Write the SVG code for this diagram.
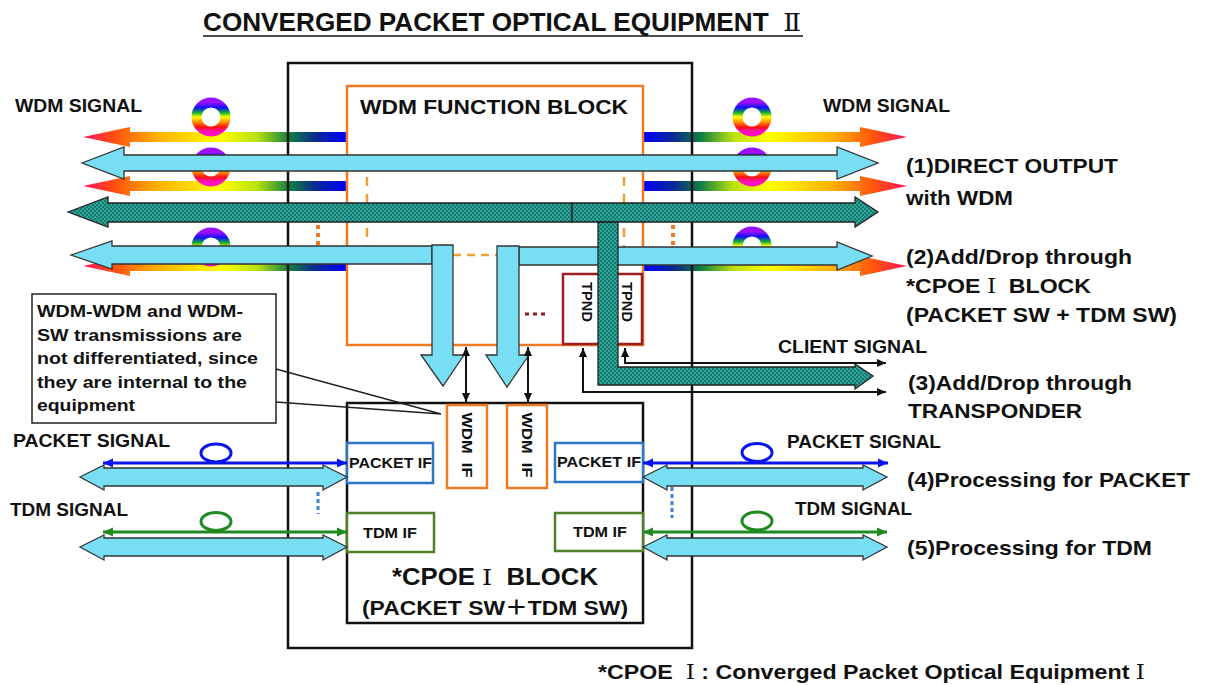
<svg xmlns="http://www.w3.org/2000/svg" width="1207" height="685" viewBox="0 0 1207 685">
<defs>
<style>
text{font-family:"Liberation Sans",Arial,"Noto Sans CJK JP",sans-serif;font-weight:bold;fill:#111}
.rn{font-family:"DejaVu Serif","Liberation Serif","Noto Sans CJK JP",serif;font-weight:normal}
.cy{fill:#78def4;stroke:#333;stroke-width:1.3}
.tl{fill:url(#chk);stroke:#222;stroke-width:1.3}
.ring{fill:none;stroke:url(#rg);stroke-width:10}
.blk{fill:none;stroke:#111;stroke-width:2.5}
.or{fill:none;stroke:#ee7a24;stroke-width:2.5}
.dash{fill:none;stroke:#f0a030;stroke-width:2.5;stroke-dasharray:9 8}
.bl{stroke:#0a14f0;stroke-width:3;fill:none}
.gr{stroke:#1f8a1f;stroke-width:3;fill:none}
.bk{stroke:#111;stroke-width:2;fill:none}
</style>
<linearGradient id="rl" gradientUnits="userSpaceOnUse" x1="347" y1="0" x2="83" y2="0">
<stop offset="0" stop-color="#0000ff"/><stop offset="0.12" stop-color="#0a2a90"/><stop offset="0.22" stop-color="#108040"/><stop offset="0.34" stop-color="#b8e010"/><stop offset="0.48" stop-color="#ffff00"/><stop offset="0.72" stop-color="#ffb000"/><stop offset="0.88" stop-color="#ff5010"/><stop offset="1" stop-color="#ff1060"/>
</linearGradient>
<linearGradient id="rr" gradientUnits="userSpaceOnUse" x1="643" y1="0" x2="907" y2="0">
<stop offset="0" stop-color="#0000ff"/><stop offset="0.12" stop-color="#0a2a90"/><stop offset="0.22" stop-color="#108040"/><stop offset="0.34" stop-color="#b8e010"/><stop offset="0.48" stop-color="#ffff00"/><stop offset="0.72" stop-color="#ffb000"/><stop offset="0.88" stop-color="#ff5010"/><stop offset="1" stop-color="#ff1060"/>
</linearGradient>
<linearGradient id="rg" x1="0" y1="0" x2="0" y2="1">
<stop offset="0" stop-color="#9a10ff"/><stop offset="0.18" stop-color="#1010ff"/><stop offset="0.35" stop-color="#10b030"/><stop offset="0.5" stop-color="#ffff00"/><stop offset="0.68" stop-color="#ff8c00"/><stop offset="0.85" stop-color="#ff1010"/><stop offset="1" stop-color="#ff10c0"/>
</linearGradient>
<pattern id="chk" width="4" height="4" patternUnits="userSpaceOnUse">
<rect width="4" height="4" fill="#33a598"/><rect width="2" height="2" fill="#137a70"/><rect x="2" y="2" width="2" height="2" fill="#137a70"/>
</pattern>
<marker id="mb" viewBox="0 0 10 10" refX="10" refY="5" markerWidth="11" markerHeight="10" markerUnits="userSpaceOnUse" orient="auto-start-reverse"><path d="M0,0.5 L10,5 L0,9.5 Z" fill="#0a14f0"/></marker>
<marker id="mg" viewBox="0 0 10 10" refX="10" refY="5" markerWidth="11" markerHeight="10" markerUnits="userSpaceOnUse" orient="auto-start-reverse"><path d="M0,0.5 L10,5 L0,9.5 Z" fill="#1f8a1f"/></marker>
<marker id="mk" viewBox="0 0 10 10" refX="10" refY="5" markerWidth="10" markerHeight="9" markerUnits="userSpaceOnUse" orient="auto-start-reverse"><path d="M0,0.5 L10,5 L0,9.5 Z" fill="#111"/></marker>
</defs>
<rect width="1207" height="685" fill="#fff"/>

<g id="title">
<text x="203" y="31" font-size="25" xml:space="preserve" textLength="598" lengthAdjust="spacingAndGlyphs">CONVERGED PACKET OPTICAL EQUIPMENT  <tspan class="rn">Ⅱ</tspan></text>
<line x1="203" y1="36" x2="803" y2="36" stroke="#111" stroke-width="1.5"/>
</g>

<g id="wdm-signals">
<polygon fill="url(#rl)" points="347,132 130,132 130,127 83,137 130,147 130,142 347,142"/>
<polygon fill="url(#rl)" points="347,181 130,181 130,176 83,186 130,196 130,191 347,191"/>
<polygon fill="url(#rl)" points="347,261 130,261 130,256 83,266 130,276 130,271 347,271"/>
<polygon fill="url(#rr)" points="643,132 860,132 860,127 907,137 860,147 860,142 643,142"/>
<polygon fill="url(#rr)" points="643,181 860,181 860,176 907,186 860,196 860,191 643,191"/>
<polygon fill="url(#rr)" points="643,261 860,261 860,256 907,266 860,276 860,271 643,271"/>
<circle class="ring" cx="211" cy="117" r="14.5"/>
<circle class="ring" cx="211" cy="167" r="14.5"/>
<circle class="ring" cx="211" cy="247" r="14.5"/>
<circle class="ring" cx="752" cy="117" r="14.5"/>
<circle class="ring" cx="752" cy="167" r="14.5"/>
<circle class="ring" cx="752" cy="246" r="14.5"/>
</g>

<g id="equipment">
<rect class="blk" x="288" y="63" width="404" height="585"/>
</g>

<g id="wdm-function-block">
<rect class="or" x="347" y="86" width="296" height="259" fill="#fff"/>
<text x="360" y="114" font-size="21" textLength="268" lengthAdjust="spacingAndGlyphs">WDM FUNCTION BLOCK</text>
<line class="dash" x1="367" y1="177" x2="367" y2="250"/>
<line class="dash" x1="624" y1="177" x2="624" y2="250"/>
<line x1="453" y1="255" x2="497" y2="255" stroke="#f0a030" stroke-width="2.5" stroke-dasharray="8 6"/>
<line x1="525" y1="314" x2="546" y2="314" stroke="#8b1c1c" stroke-width="3" stroke-dasharray="4 4"/>
</g>
<g id="outside-dots">
<line x1="318" y1="225" x2="318" y2="246" stroke="#ee7a24" stroke-width="4" stroke-dasharray="4 4"/>
<line x1="673" y1="225" x2="673" y2="246" stroke="#ee7a24" stroke-width="4" stroke-dasharray="4 4"/>
<line x1="318" y1="492" x2="318" y2="514" stroke="#3a7fd0" stroke-width="3" stroke-dasharray="4 3"/>
<line x1="672" y1="487" x2="672" y2="518" stroke="#3a7fd0" stroke-width="3" stroke-dasharray="4 3"/>
</g>

<g id="tpnd">
<rect x="563" y="274" width="79" height="70" fill="#fff" stroke="#9b1e22" stroke-width="2.5"/>
</g>

<g id="cpoe-block">
<rect class="blk" x="347" y="403" width="296" height="220" fill="#fff"/>
<text x="392" y="585" font-size="23" xml:space="preserve" textLength="206" lengthAdjust="spacingAndGlyphs">*CPOE <tspan class="rn">Ⅰ</tspan>  BLOCK</text>
<text x="362" y="615" font-size="20" textLength="266" lengthAdjust="spacingAndGlyphs">(PACKET SW＋TDM SW)</text>
</g>
<g id="wdm-if-1">
<rect x="447" y="405" width="40" height="83" fill="#fff" stroke="#ee7a24" stroke-width="2.5"/>
<text transform="translate(467,445) rotate(90)" x="0" y="5" font-size="14" text-anchor="middle" xml:space="preserve" textLength="65" lengthAdjust="spacingAndGlyphs">WDM  IF</text>
</g>
<g id="wdm-if-2">
<rect x="507" y="405" width="40" height="83" fill="#fff" stroke="#ee7a24" stroke-width="2.5"/>
<text transform="translate(527,445) rotate(90)" x="0" y="5" font-size="14" text-anchor="middle" xml:space="preserve" textLength="65" lengthAdjust="spacingAndGlyphs">WDM  IF</text>
</g>
<g id="packet-if-left">
<rect x="347" y="443" width="86" height="40" fill="#fff" stroke="#2e75c6" stroke-width="2.5"/>
<text x="349" y="468" font-size="15" textLength="83" lengthAdjust="spacingAndGlyphs">PACKET IF</text>
</g>
<g id="packet-if-right">
<rect x="555" y="443" width="88" height="39" fill="#fff" stroke="#2e75c6" stroke-width="2.5"/>
<text x="557" y="467" font-size="15" textLength="84" lengthAdjust="spacingAndGlyphs">PACKET IF</text>
</g>
<g id="tdm-if-left">
<rect x="347" y="513" width="87" height="39" fill="#fff" stroke="#4f7f28" stroke-width="2.5"/>
<text x="363" y="538" font-size="15" textLength="54" lengthAdjust="spacingAndGlyphs">TDM IF</text>
</g>
<g id="tdm-if-right">
<rect x="555" y="513" width="88" height="38" fill="#fff" stroke="#4f7f28" stroke-width="2.5"/>
<text x="573" y="537" font-size="15" textLength="54" lengthAdjust="spacingAndGlyphs">TDM IF</text>
</g>

<g id="connectors">
<path class="cy" d="M82,163 L124,147 L124,155 L837,155 L837,147 L878,163 L837,179 L837,171 L124,171 L124,179 Z"/>
<path class="tl" d="M68,212 L108,197 L108,203 L572,203 L572,222 L108,222 L108,227 Z"/>
<path class="tl" d="M572,203 L855,203 L855,197 L878,212 L855,227 L855,222 L572,222 Z"/>
<path class="cy" d="M71,255 L112,241 L112,246 L432,246 L432,264 L112,264 L112,269 Z"/>
<path class="cy" d="M519,247 L837,247 L837,242 L872,256 L837,270 L837,265 L519,265 Z"/>
<path class="cy" d="M432,245 L453,245 L453,355 L464,355 L443,386 L421,355 L432,355 Z"/>
<path class="cy" d="M497,246 L519,246 L519,355 L529,355 L507,387 L486,355 L497,355 Z"/>
<path class="tl" d="M598,222 L618,222 L618,367 L855,367 L855,364 L873,376 L855,389 L855,385 L598,385 Z"/>
<path class="bk" d="M625,348 L625,363 L886,363" marker-start="url(#mk)" marker-end="url(#mk)"/>
<path class="bk" d="M583,348 L583,392 L886,392" marker-start="url(#mk)" marker-end="url(#mk)"/>
<path class="bk" d="M466,347 L466,402" marker-start="url(#mk)" marker-end="url(#mk)"/>
<path class="bk" d="M528,347 L528,402" marker-start="url(#mk)" marker-end="url(#mk)"/>
<path class="cy" d="M80,477 L104,465 L104,468 L323,468 L323,465 L347,477 L323,490 L323,486 L104,486 L104,490 Z"/>
<path class="cy" d="M80,547 L104,535 L104,538 L323,538 L323,535 L347,547 L323,560 L323,556 L104,556 L104,560 Z"/>
<path class="cy" d="M643,477 L667,465 L667,468 L863,468 L863,465 L887,477 L863,490 L863,486 L667,486 L667,490 Z"/>
<path class="cy" d="M643,547 L667,535 L667,538 L863,538 L863,535 L887,547 L863,560 L863,556 L667,556 L667,560 Z"/>
<line class="bl" x1="103" y1="463" x2="347" y2="463" marker-start="url(#mb)" marker-end="url(#mb)"/>
<line class="bl" x1="643" y1="463" x2="888" y2="463" marker-start="url(#mb)" marker-end="url(#mb)"/>
<line class="gr" x1="103" y1="532" x2="347" y2="532" marker-start="url(#mg)" marker-end="url(#mg)"/>
<line class="gr" x1="643" y1="532" x2="887" y2="532" marker-start="url(#mg)" marker-end="url(#mg)"/>
<ellipse class="bl" cx="216" cy="453" rx="15" ry="9"/>
<ellipse class="bl" cx="757" cy="452.5" rx="15" ry="9"/>
<ellipse class="gr" cx="216" cy="521.5" rx="15" ry="9"/>
<ellipse class="gr" cx="757" cy="521" rx="15" ry="9"/>
</g>

<g id="tpnd-labels">
<text transform="translate(587,302) rotate(90)" x="0" y="5" font-size="14" text-anchor="middle" textLength="40" lengthAdjust="spacingAndGlyphs">TPND</text>
<text transform="translate(627,302) rotate(90)" x="0" y="5" font-size="14" text-anchor="middle" textLength="40" lengthAdjust="spacingAndGlyphs">TPND</text>
</g>

<g id="labels">
<text x="15" y="112" font-size="18" textLength="127" lengthAdjust="spacingAndGlyphs">WDM SIGNAL</text>
<text x="823" y="112" font-size="18" textLength="127" lengthAdjust="spacingAndGlyphs">WDM SIGNAL</text>
<text x="906" y="173" font-size="21" textLength="212" lengthAdjust="spacingAndGlyphs">(1)DIRECT OUTPUT</text>
<text x="906" y="205" font-size="21" textLength="107" lengthAdjust="spacingAndGlyphs">with WDM</text>
<text x="906" y="264" font-size="21" textLength="226" lengthAdjust="spacingAndGlyphs">(2)Add/Drop through</text>
<text x="906" y="293" font-size="21" xml:space="preserve" textLength="185" lengthAdjust="spacingAndGlyphs">*CPOE <tspan class="rn">Ⅰ</tspan>  BLOCK</text>
<text x="906" y="322" font-size="21" textLength="271" lengthAdjust="spacingAndGlyphs">(PACKET SW + TDM SW)</text>
<text x="778" y="353" font-size="18" textLength="149" lengthAdjust="spacingAndGlyphs">CLIENT SIGNAL</text>
<text x="908" y="390" font-size="21" textLength="224" lengthAdjust="spacingAndGlyphs">(3)Add/Drop through</text>
<text x="908" y="418" font-size="21" textLength="174" lengthAdjust="spacingAndGlyphs">TRANSPONDER</text>
<text x="907" y="487" font-size="21" textLength="283" lengthAdjust="spacingAndGlyphs">(4)Processing for PACKET</text>
<text x="907" y="555" font-size="21" textLength="245" lengthAdjust="spacingAndGlyphs">(5)Processing for TDM</text>
<text x="13" y="447" font-size="18" textLength="157" lengthAdjust="spacingAndGlyphs">PACKET SIGNAL</text>
<text x="10" y="516" font-size="18" textLength="118" lengthAdjust="spacingAndGlyphs">TDM SIGNAL</text>
<text x="787" y="448" font-size="18" textLength="154" lengthAdjust="spacingAndGlyphs">PACKET SIGNAL</text>
<text x="795" y="515" font-size="18" textLength="117" lengthAdjust="spacingAndGlyphs">TDM SIGNAL</text>
<text x="598" y="679" font-size="20" xml:space="preserve" textLength="547" lengthAdjust="spacingAndGlyphs">*CPOE  <tspan class="rn">Ⅰ</tspan> : Converged Packet Optical Equipment <tspan class="rn">Ⅰ</tspan></text>
</g>

<g id="callout">
<rect x="32" y="294" width="244" height="129" fill="#fff" stroke="#222" stroke-width="1.5"/>
<path d="M276,369 L441,414 L276,402" fill="none" stroke="#222" stroke-width="1.3"/>
<text x="37" y="317" font-size="17" textLength="206" lengthAdjust="spacingAndGlyphs">WDM-WDM and WDM-</text>
<text x="37" y="341" font-size="17" textLength="205" lengthAdjust="spacingAndGlyphs">SW transmissions are</text>
<text x="37" y="364" font-size="17" textLength="221" lengthAdjust="spacingAndGlyphs">not differentiated, since</text>
<text x="37" y="388" font-size="17" textLength="210" lengthAdjust="spacingAndGlyphs">they are internal to the</text>
<text x="37" y="411" font-size="17" textLength="98" lengthAdjust="spacingAndGlyphs">equipment</text>
</g>
</svg>
